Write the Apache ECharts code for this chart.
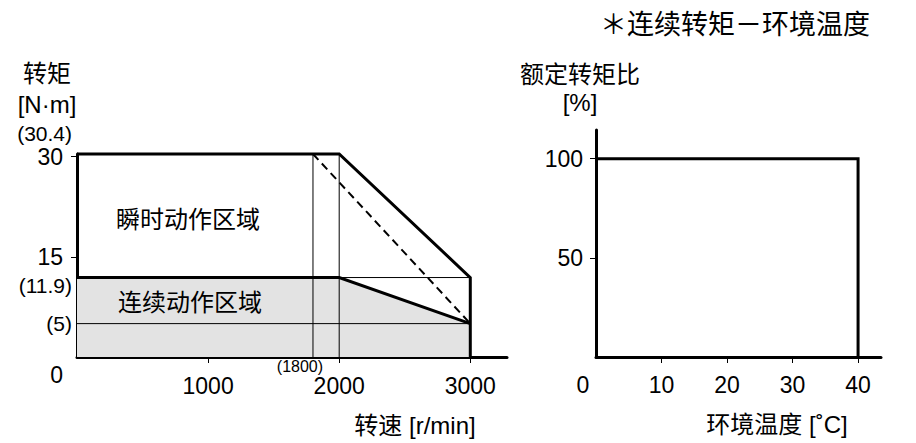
<!DOCTYPE html>
<html>
<head>
<meta charset="utf-8">
<script src="https://cdn.jsdelivr.net/npm/echarts@6/dist/echarts.min.js"></script>
<style>
html,body{margin:0;padding:0;background:#fff;}
#chart{width:916px;height:443px;}
</style>
</head>
<body>
<div id="chart"></div>
<script>
// ---- Left chart: torque vs speed ----
const speedTicks = [1000, 2000, 3000];
const torqueTicks = [15, 30];
// peak (instantaneous) boundary
const peakSpeed  = [0, 2000, 3000, 3000];
const peakTorque = [30.4, 30.4, 11.9, 0];
// continuous boundary (filled)
const contSpeed  = [0, 2000, 3000];
const contTorque = [11.9, 11.9, 5];
// dashed boundary
const dashSpeed  = [1800, 3000];
const dashTorque = [30.4, 5];
// thin guide lines: [x1, y1, x2, y2]
const guideV1800 = [1800, 0, 1800, 30.4];
const guideV2000 = [2000, 0, 2000, 30.4];
const guideH119  = [2000, 11.9, 3000, 11.9];
const guideH5    = [0, 5, 3000, 5];
// parenthesised value marks
const markTorques = [30.4, 11.9, 5];
const markSpeeds  = [1800];

// ---- Right chart: rated torque ratio vs ambient temperature ----
const tempTicks  = [0, 10, 20, 30, 40];
const ratioTicks = [50, 100];
const tempC      = [0, 40, 40];
const ratioPct   = [100, 100, 0];

const FONT = "'Liberation Sans', 'Noto Sans CJK SC', sans-serif";
const zip = (a, b) => a.map((v, i) => [v, b[i]]);
const seg = s => [[s[0], s[1]], [s[2], s[3]]];

const chart = echarts.init(document.getElementById('chart'), null, {renderer: 'svg'});

const axisLineStyle = {show: true, lineStyle: {color: '#000', width: 3}};
const tickStyle = {lineStyle: {color: '#000', width: 1}};

function thin(data) {
  return {type: 'line', xAxisIndex: 0, yAxisIndex: 0, data: data, symbol: 'none', clip: false,
    lineStyle: {color: '#000', width: 1}, z: 3, silent: true};
}

// label offsets keep the parenthesised marks clear of the tick labels
const torqueMarkOffsets = [[0, -21], [0, 8], [0, 0]];

const option = {
  animation: false,
  backgroundColor: '#fff',
  textStyle: {fontFamily: FONT, color: '#000'},
  grid: [
    {left: 77, right: 409, top: 154, bottom: 86},
    {left: 596, right: 35, top: 130, bottom: 86}
  ],
  xAxis: [
    {type: 'value', gridIndex: 0, min: 0, max: 3280, interval: 1000,
     axisLine: axisLineStyle, splitLine: {show: false},
     axisTick: Object.assign({show: true, length: 6, inside: false, customValues: speedTicks}, tickStyle),
     axisLabel: {customValues: speedTicks, fontSize: 23, color: '#000', fontFamily: FONT, margin: 17,
       formatter: v => String(v)}},
    {type: 'value', gridIndex: 1, min: 0, max: 43.5, interval: 10,
     axisLine: axisLineStyle, splitLine: {show: false},
     axisTick: Object.assign({show: true, length: 6, inside: false, customValues: tempTicks.filter(v => v > 0)}, tickStyle),
     axisLabel: {customValues: tempTicks, fontSize: 23, color: '#000', fontFamily: FONT, margin: 16,
       formatter: v => v === 0 ? '{o|0}' : String(v),
       rich: {o: {fontSize: 23, fontFamily: FONT, color: '#000', padding: [0, 26, 0, 0]}}}}
  ],
  yAxis: [
    {type: 'value', gridIndex: 0, min: 0, max: 30.4, interval: 15,
     axisLine: axisLineStyle, splitLine: {show: false},
     axisTick: Object.assign({show: true, length: 6, inside: false, customValues: torqueTicks}, tickStyle),
     axisLabel: {customValues: [0].concat(torqueTicks), fontSize: 23, color: '#000', fontFamily: FONT, margin: 14,
       formatter: v => v === 0 ? '{o|0}' : String(v),
       rich: {o: {fontSize: 23, fontFamily: FONT, color: '#000', padding: [36, 0, 0, 0]}}}},
    {type: 'value', gridIndex: 1, min: 0, max: 114.5, interval: 50,
     axisLine: axisLineStyle, splitLine: {show: false},
     axisTick: Object.assign({show: true, length: 6, inside: false, customValues: ratioTicks}, tickStyle),
     axisLabel: {customValues: ratioTicks, fontSize: 23, color: '#000', fontFamily: FONT, margin: 13}}
  ],
  series: [
    // continuous region fill
    {type: 'line', xAxisIndex: 0, yAxisIndex: 0, data: zip(contSpeed, contTorque), symbol: 'none', clip: false,
     lineStyle: {width: 0, opacity: 0}, areaStyle: {color: '#e3e3e3', opacity: 1}, z: 1, silent: true},
    thin(seg(guideV1800)),
    thin(seg(guideV2000)),
    thin(seg(guideH119)),
    thin(seg(guideH5)),
    // continuous boundary (thick)
    {type: 'line', xAxisIndex: 0, yAxisIndex: 0, data: zip(contSpeed, contTorque), symbol: 'none', clip: false,
     lineStyle: {color: '#000', width: 3, join: 'miter'}, z: 5, silent: true},
    // peak boundary (thick)
    {type: 'line', xAxisIndex: 0, yAxisIndex: 0, data: zip(peakSpeed, peakTorque), symbol: 'none', clip: false,
     lineStyle: {color: '#000', width: 3, join: 'miter'}, z: 5, silent: true},
    // dashed boundary
    {type: 'line', xAxisIndex: 0, yAxisIndex: 0, data: zip(dashSpeed, dashTorque), symbol: 'none', clip: false,
     lineStyle: {color: '#000', width: 2, type: [8, 5]}, z: 4, silent: true},
    // value marks
    {type: 'scatter', xAxisIndex: 0, yAxisIndex: 0, symbolSize: 0, clip: false, silent: true, z: 6,
     itemStyle: {opacity: 1, color: '#000'},
     data: markTorques.map((t, i) => ({value: [0, t],
       label: {show: true, position: 'left', distance: 5, formatter: '(' + t + ')', opacity: 1,
               fontSize: 21, fontFamily: FONT, color: '#000', offset: torqueMarkOffsets[i]}}))
       .concat(markSpeeds.map(s => ({value: [s, 0],
       label: {show: true, position: 'bottom', distance: 5, formatter: '(' + s + ')', opacity: 1,
               fontSize: 16, fontFamily: FONT, color: '#000', offset: [-13, -4]}})))},
    // right chart
    {type: 'line', xAxisIndex: 1, yAxisIndex: 1, data: zip(tempC, ratioPct), symbol: 'none', clip: false,
     lineStyle: {color: '#000', width: 3, join: 'miter'}, z: 5, silent: true}
  ],
  graphic: [
    {type: 'text', z: 10, style: {text: '＊连续转矩－环境温度', x: 735, y: 25, textAlign: 'center', textVerticalAlign: 'middle', font: '27px ' + FONT, fill: '#000'}},
    {type: 'text', z: 10, style: {text: '转矩', x: 47, y: 73, textAlign: 'center', textVerticalAlign: 'middle', font: '24px ' + FONT, fill: '#000'}},
    {type: 'text', z: 10, style: {text: '[N·m]', x: 47, y: 104, textAlign: 'center', textVerticalAlign: 'middle', font: '24px ' + FONT, fill: '#000'}},
    {type: 'text', z: 10, style: {text: '额定转矩比', x: 580, y: 74, textAlign: 'center', textVerticalAlign: 'middle', font: '24px ' + FONT, fill: '#000'}},
    {type: 'text', z: 10, style: {text: '[%]', x: 580, y: 102, textAlign: 'center', textVerticalAlign: 'middle', font: '24px ' + FONT, fill: '#000'}},
    {type: 'text', z: 10, style: {text: '转速 [r/min]', x: 415, y: 425, textAlign: 'center', textVerticalAlign: 'middle', font: '24px ' + FONT, fill: '#000'}},
    {type: 'text', z: 10, style: {text: '环境温度 [˚C]', x: 777, y: 424, textAlign: 'center', textVerticalAlign: 'middle', font: '24px ' + FONT, fill: '#000'}},
    {type: 'text', z: 10, style: {text: '瞬时动作区域', x: 188, y: 219, textAlign: 'center', textVerticalAlign: 'middle', font: '24px ' + FONT, fill: '#000'}},
    {type: 'text', z: 10, style: {text: '连续动作区域', x: 190, y: 302, textAlign: 'center', textVerticalAlign: 'middle', font: '24px ' + FONT, fill: '#000'}}
  ]
};
chart.setOption(option);
</script>
</body>
</html>
